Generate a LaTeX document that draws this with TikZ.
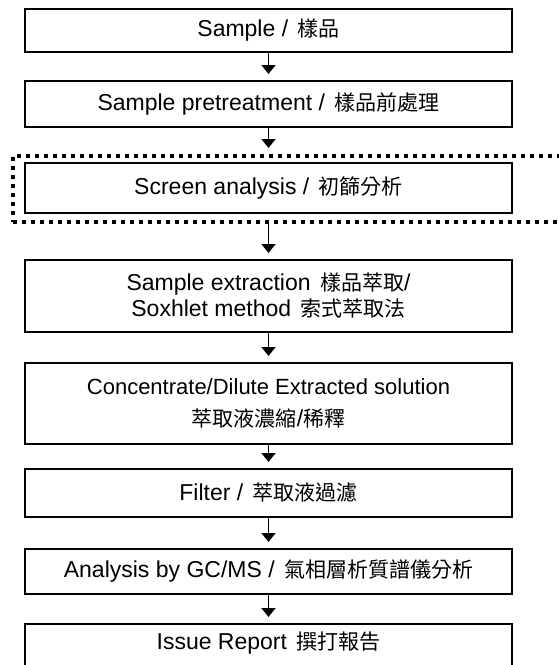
\documentclass[tikz,border=0pt]{standalone}
\usepackage{fontspec}
\setmainfont{Liberation Sans}
\newfontfamily\cjk{Noto Sans CJK TC}
\newcommand{\zh}[1]{{\cjk\fontsize{21}{24}\selectfont #1}}
\newcommand{\gp}{\ \hspace{3pt}}
\usetikzlibrary{arrows.meta}
\tikzset{
  stepbox/.style={draw=black, line width=1.8pt, minimum width=487pt, inner sep=0pt, anchor=north, align=center, font=\fontsize{23}{27}\selectfont},
  flow/.style={line width=1.6pt, -{Triangle[width=14pt,length=9pt]}, shorten >=6pt},
  dotframe/.style={draw=black, line width=4pt, dash pattern=on 4pt off 5pt, inner sep=0pt, anchor=north west}
}
\begin{document}
\begin{tikzpicture}[x=1pt,y=-1pt]
\useasboundingbox (0,0) rectangle (559,665);
\node[stepbox, minimum height=43pt] (b1) at (268.5,8) {Sample /\gp\zh{樣品}};
\node[stepbox, minimum height=46pt] (b2) at (268.5,80) {Sample pretreatment /\gp\zh{樣品前處理}};
\node[dotframe, minimum width=565pt, minimum height=66pt] (fr) at (11,154) {};
\node[stepbox, minimum height=50pt] (b3) at (268.5,162) {Screen analysis /\gp\zh{初篩分析}};
\node[stepbox, minimum height=72pt] (b4) at (268.5,259) {Sample extraction\gp\zh{樣品萃取}/\\[-1pt] Soxhlet method\gp\zh{索式萃取法}};
\node[stepbox, minimum height=81pt] (b5) at (268.5,362) {{\fontsize{22}{27}\selectfont Concentrate/Dilute Extracted solution}\\[5pt] \zh{萃取液濃縮}/\zh{稀釋}};
\node[stepbox, minimum height=48pt] (b6) at (268.5,468) {Filter /\gp\zh{萃取液過濾}};
\node[stepbox, minimum height=45pt] (b7) at (268.5,548) {Analysis by GC/MS /\gp\zh{氣相層析質譜儀分析}};
\node[stepbox, minimum height=55pt, anchor=north] (b8) at (268.5,623) {};
\node[font=\fontsize{23}{27}\selectfont] (t8) at (268.5,643) {Issue Report\gp\zh{撰打報告}};
\draw[flow] (b1.south) -- (b2.north);
\draw[flow] (b2.south) -- (b2.south |- fr.north);
\draw[flow] (b2.south |- fr.south) -- (b4.north);
\draw[flow] (b4.south) -- (b5.north);
\draw[flow] (b5.south) -- (b6.north);
\draw[flow] (b6.south) -- (b7.north);
\draw[flow] (b7.south) -- (b8.north);
\end{tikzpicture}
\end{document}
